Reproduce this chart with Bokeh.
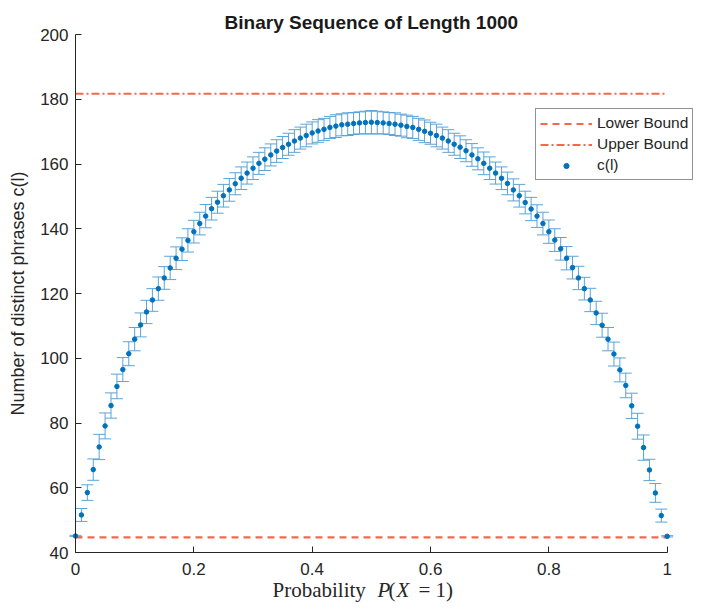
from bokeh.plotting import figure
from bokeh.models import (Range1d, Whisker, TeeHead, ColumnDataSource, Legend,
                          LegendItem, Label, FixedTicker)
from bokeh.embed import file_html
from bokeh.resources import INLINE

# ---------------- data ----------------
prob = [0.00, 0.01, 0.02, 0.03, 0.04, 0.05, 0.06, 0.07, 0.08, 0.09,
        0.10, 0.11, 0.12, 0.13, 0.14, 0.15, 0.16, 0.17, 0.18, 0.19,
        0.20, 0.21, 0.22, 0.23, 0.24, 0.25, 0.26, 0.27, 0.28, 0.29,
        0.30, 0.31, 0.32, 0.33, 0.34, 0.35, 0.36, 0.37, 0.38, 0.39,
        0.40, 0.41, 0.42, 0.43, 0.44, 0.45, 0.46, 0.47, 0.48, 0.49,
        0.50, 0.51, 0.52, 0.53, 0.54, 0.55, 0.56, 0.57, 0.58, 0.59,
        0.60, 0.61, 0.62, 0.63, 0.64, 0.65, 0.66, 0.67, 0.68, 0.69,
        0.70, 0.71, 0.72, 0.73, 0.74, 0.75, 0.76, 0.77, 0.78, 0.79,
        0.80, 0.81, 0.82, 0.83, 0.84, 0.85, 0.86, 0.87, 0.88, 0.89,
        0.90, 0.91, 0.92, 0.93, 0.94, 0.95, 0.96, 0.97, 0.98, 0.99, 1.00]

phrases = [45.1, 51.6, 58.5, 65.6, 72.6, 79.1, 85.4, 91.3, 96.5, 101.4,
           105.9, 110.3, 114.3, 118.0, 121.5, 124.8, 127.9, 130.9, 133.7, 136.4,
           139.1, 141.6, 143.9, 146.2, 148.2, 150.2, 152.0, 153.9, 155.6, 157.2,
           158.7, 160.2, 161.5, 162.8, 164.0, 165.1, 166.1, 167.1, 168.0, 168.8,
           169.6, 170.2, 170.7, 171.3, 171.7, 172.1, 172.3, 172.5, 172.7, 172.8,
           172.9, 172.8, 172.7, 172.5, 172.3, 172.0, 171.6, 171.3, 170.7, 170.1,
           169.5, 168.8, 168.0, 167.1, 166.1, 165.2, 164.1, 162.8, 161.6, 160.2,
           158.7, 157.2, 155.6, 154.0, 152.0, 150.2, 148.1, 146.1, 143.9, 141.6,
           139.1, 136.5, 133.8, 130.9, 128.0, 124.8, 121.5, 118.0, 114.0, 110.2,
           105.9, 101.3, 96.4, 91.6, 85.3, 79.0, 72.4, 65.5, 58.4, 51.4, 45.0]

err = [0.2, 2.0, 2.4, 3.3, 3.9, 4.0, 3.9, 3.8, 3.7, 3.7,
       3.6, 3.7, 3.6, 3.5, 3.6, 3.5, 3.6, 3.5, 3.5, 3.6,
       3.5, 3.5, 3.6, 3.5, 3.4, 3.5, 3.5, 3.4, 3.5, 3.4,
       3.5, 3.4, 3.5, 3.4, 3.5, 3.4, 3.4, 3.5, 3.4, 3.5,
       3.4, 3.5, 3.4, 3.4, 3.5, 3.4, 3.5, 3.4, 3.4, 3.5,
       3.6, 3.5, 3.4, 3.4, 3.5, 3.4, 3.5, 3.4, 3.4, 3.5,
       3.4, 3.5, 3.4, 3.5, 3.4, 3.5, 3.4, 3.5, 3.4, 3.5,
       3.5, 3.4, 3.5, 3.5, 3.4, 3.5, 3.5, 3.6, 3.5, 3.5,
       3.6, 3.5, 3.5, 3.6, 3.5, 3.6, 3.5, 3.6, 3.6, 3.7,
       3.6, 3.7, 3.7, 3.8, 3.9, 4.0, 3.9, 3.3, 2.9, 2.0, 0.2]

lower_bound = 44.7
upper_bound = 181.7

x_min, x_max = 0, 1
y_min, y_max = 40, 200
x_ticks = [0, 0.2, 0.4, 0.6, 0.8, 1]
x_tick_labels = ["0", "0.2", "0.4", "0.6", "0.8", "1"]
y_ticks = [40, 60, 80, 100, 120, 140, 160, 180, 200]

title_text = "Binary Sequence of Length 1000"
y_label = "Number of distinct phrases c(l)"
legend_labels = ["Lower Bound", "Upper Bound", "c(l)"]

# ---------------- layout / style ----------------
BLUE = "#0072BD"
ERR = "#5aa4d9"
RED = "#F5694A"
AX = "#262626"
SANS = "Liberation Sans"
SERIF = "Liberation Serif"

W, H = 706, 606
AX_LEFT = 75      # page x of x = 0
AX_TOP = 34       # page y of y = 200
PX_X = 591.7      # pixels per x unit
PX_Y = 3.2375     # pixels per y unit

x_start = x_min - AX_LEFT / PX_X
x_end = x_start + W / PX_X
y_end = y_max + AX_TOP / PX_Y
y_start = y_end - H / PX_Y

p = figure(width=W, height=H, x_range=Range1d(x_start, x_end), y_range=Range1d(y_start, y_end),
           output_backend="svg", toolbar_location=None,
           min_border_left=0, min_border_right=0, min_border_top=0, min_border_bottom=0)
p.outline_line_color = None
p.xgrid.visible = False
p.ygrid.visible = False
p.background_fill_color = "white"
p.border_fill_color = "white"

for ax in (p.xaxis[0], p.yaxis[0]):
    ax.axis_line_color = AX
    ax.axis_line_width = 1
    ax.major_tick_line_color = AX
    ax.major_tick_in = 6
    ax.major_tick_out = 0
    ax.minor_tick_line_color = None
    ax.major_label_text_color = AX
    ax.major_label_text_font = SANS
    ax.major_label_text_font_size = "17px"

p.xaxis.ticker = FixedTicker(ticks=x_ticks)
p.xaxis.major_label_overrides = {t: s for t, s in zip(x_ticks, x_tick_labels)}
p.xaxis.major_label_standoff = 10
p.xaxis.bounds = (x_min, x_max)
p.xaxis.fixed_location = y_min

p.yaxis.ticker = FixedTicker(ticks=y_ticks)
p.yaxis.bounds = (y_min, y_max)
p.yaxis.fixed_location = x_min
p.yaxis.major_label_standoff = 7
p.yaxis.axis_label = y_label
p.yaxis.axis_label_text_font = SANS
p.yaxis.axis_label_text_font_size = "18px"
p.yaxis.axis_label_text_font_style = "normal"
p.yaxis.axis_label_text_color = AX
p.yaxis.axis_label_standoff = 9

# ---------------- glyphs ----------------
src = ColumnDataSource(dict(
    x=prob, y=phrases,
    lower=[v - e for v, e in zip(phrases, err)],
    upper=[v + e for v, e in zip(phrases, err)],
))

lb_r = p.line(x=[prob[0], prob[-1]], y=[lower_bound, lower_bound], line_color=RED,
              line_width=2.2, line_dash="7 5")
ub_r = p.line(x=[prob[0], prob[-1]], y=[upper_bound, upper_bound], line_color=RED,
              line_width=2.2, line_dash="8 3 2 3")

wh = Whisker(base="x", lower="lower", upper="upper", source=src, dimension="height",
             line_color=ERR, line_width=1,
             upper_head=TeeHead(size=12, line_color=ERR, line_width=1),
             lower_head=TeeHead(size=12, line_color=ERR, line_width=1))
p.add_layout(wh)

dots = p.scatter(x="x", y="y", source=src, size=4.5, fill_color=BLUE, line_color=BLUE)

legend = Legend(items=[LegendItem(label=legend_labels[0], renderers=[lb_r]),
                       LegendItem(label=legend_labels[1], renderers=[ub_r]),
                       LegendItem(label=legend_labels[2], renderers=[dots])],
                location=(535, H - 180), orientation="vertical",
                label_text_font=SANS, label_text_font_size="15.5px", label_text_color=AX,
                glyph_width=52, glyph_height=13, label_height=20, label_standoff=5,
                spacing=1, padding=4, margin=0,
                border_line_color=AX, border_line_width=1,
                background_fill_color="white", background_fill_alpha=1)
p.add_layout(legend)

# ---------------- title and x label (MATLAB style) ----------------
p.add_layout(Label(x=(x_min + x_max) / 2, y=y_max, y_offset=12, text=title_text,
                   text_align="center", text_baseline="middle", text_font=SANS,
                   text_font_size="19px", text_font_style="bold", text_color="#1a1a1a"))

xl_parts = [("Probability", 197, "normal"), ("P", 302, "italic"), ("(", 313, "normal"),
            ("X", 321, "italic"), ("= 1)", 343, "normal")]
for txt, off, style in xl_parts:
    p.add_layout(Label(x=x_min, y=y_min, x_offset=off, y_offset=-37, text=txt,
                       text_align="left", text_baseline="alphabetic",
                       text_font=SERIF, text_font_size="21px", text_font_style=style,
                       text_color=AX))

open("out.html", "w").write(file_html(p, INLINE))
